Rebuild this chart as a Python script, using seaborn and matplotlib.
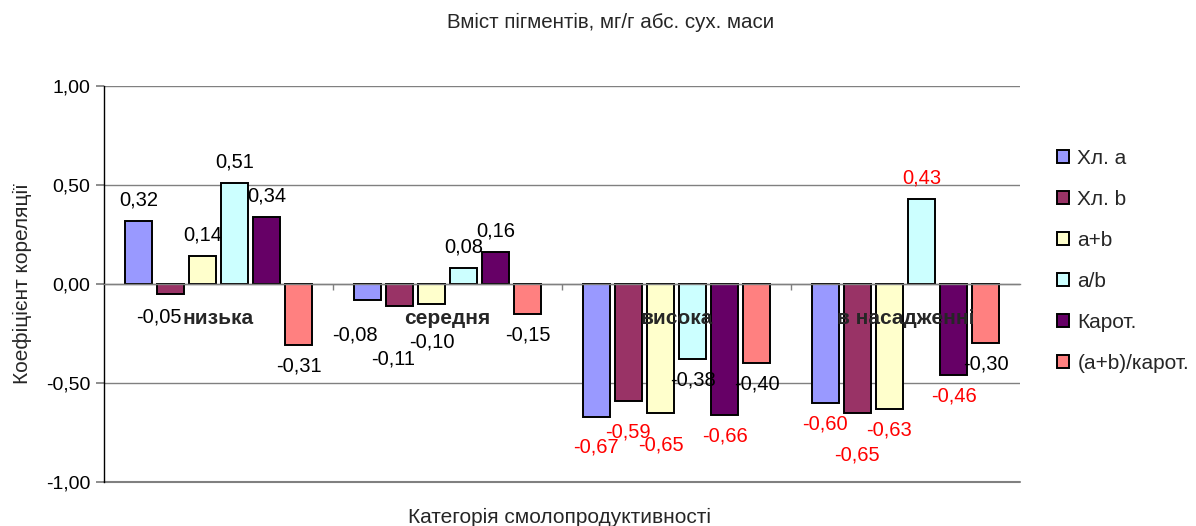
import matplotlib
matplotlib.use("Agg")
import matplotlib.pyplot as plt
from matplotlib.ticker import FuncFormatter, FixedLocator
import seaborn as sns
import pandas as pd

# дані: коефіцієнти кореляції
kategorii = ['низька', 'середня', 'висока', 'в насадженні']
serii = ['Хл. а', 'Хл. b', 'a+b', 'a/b', 'Карот.', '(a+b)/карот.']
znachennya = {
    'Хл. а':        [0.32, -0.08, -0.67, -0.60],
    'Хл. b':        [-0.05, -0.11, -0.59, -0.65],
    'a+b':          [0.14, -0.10, -0.65, -0.63],
    'a/b':          [0.51, 0.08, -0.38, 0.43],
    'Карот.':       [0.34, 0.16, -0.66, -0.46],
    '(a+b)/карот.': [-0.31, -0.15, -0.40, -0.30],
}
# достовірні значення (червоні підписи)
dostovirni = {
    'Хл. а':        [False, False, True, True],
    'Хл. b':        [False, False, True, True],
    'a+b':          [False, False, True, True],
    'a/b':          [False, False, False, True],
    'Карот.':       [False, False, True, True],
    '(a+b)/карот.': [False, False, False, False],
}
kolory = ['#9999FF', '#993366', '#FFFFCC', '#CCFFFF', '#660066', '#FF8080']

# ручні зсуви підписів (пікселі), як у вихідному рисунку
zsuvy = {
    ('Хл. b', 0): (-12, 2),
    ('Хл. а', 1): (-12, 14),
    ('Хл. b', 1): (-6, 32),
    ('a+b', 1): (0, 17),
    ('Хл. а', 2): (0, 9),
    ('Хл. b', 2): (0, 10),
    ('a+b', 2): (0, 11),
    ('Хл. b', 3): (0, 21),
}

df = pd.DataFrame([
    {'Категорія': k, 'Серія': s, 'r': znachennya[s][i]}
    for s in serii for i, k in enumerate(kategorii)
])

sns.set_theme(style="white")
plt.rcParams['font.family'] = ['Liberation Sans', 'DejaVu Sans']

fig = plt.figure(figsize=(11.96, 5.26), dpi=100)
ax = fig.add_axes([104 / 1196, 1 - 482 / 526, (1020 - 104) / 1196, (482 - 86) / 526])

sns.barplot(data=df, x='Категорія', y='r', hue='Серія', order=kategorii,
            hue_order=serii, palette=kolory, saturation=1, edgecolor='black',
            linewidth=1.4, width=0.84, gap=0.16, errorbar=None, ax=ax)

handles, labels = ax.get_legend_handles_labels()
ax.get_legend().remove()

# підписи значень
for s, cont in zip(serii, ax.containers):
    for i, bar in enumerate(cont):
        v = znachennya[s][i]
        dx, dy = zsuvy.get((s, i), (0, 0))
        sign = 1 if v >= 0 else -1
        ax.annotate(f"{v:.2f}".replace('.', ','),
                    xy=(bar.get_x() + bar.get_width() / 2, v),
                    xytext=(dx, sign * (21 + dy)), textcoords='offset pixels',
                    ha='center', va='center', fontsize=14.5,
                    color='red' if dostovirni[s][i] else 'black', zorder=5)

# назви категорій поверх стовпців
for i, k in enumerate(kategorii):
    ax.annotate(k, xy=(i, 0), xytext=(0, -35), textcoords='offset pixels',
                ha='center', va='center', fontsize=15, fontweight='bold', zorder=6)

ax.set_ylim(-1, 1)
ax.set_xlim(-0.5, 3.5)
ax.set_yticks([-1, -0.5, 0, 0.5, 1])
ax.yaxis.set_major_formatter(FuncFormatter(lambda v, p: f"{v:.2f}".replace('.', ',')))
ax.tick_params(axis='y', labelsize=14, length=6, color='#808080', labelcolor='black',
               left=True, pad=4)
ax.grid(axis='y', color='#808080', linewidth=1)
ax.set_axisbelow(True)

ax.spines['top'].set_visible(False)
ax.spines['right'].set_visible(False)
ax.spines['left'].set_color('black')
ax.spines['left'].set_linewidth(1)
ax.spines['bottom'].set_position(('data', 0))
ax.spines['bottom'].set_color('#808080')
ax.spines['bottom'].set_linewidth(1)
ax.axhline(-1, color='#808080', linewidth=1.5, zorder=0.5, clip_on=False)

ax.set_xticks(range(len(kategorii)))
ax.set_xticklabels([])
ax.xaxis.set_minor_locator(FixedLocator([0.5, 1.5, 2.5]))
ax.tick_params(axis='x', which='major', length=0)
ax.tick_params(axis='x', which='minor', length=4, color='#808080', direction='out',
               bottom=True)
ax.set_xlabel('')
ax.set_ylabel('')

fig.text(611 / 1196, 1 - 22 / 526, 'Вміст пігментів, мг/г абс. сух. маси',
         ha='center', va='center', fontsize=14.8)
fig.text(560 / 1196, 1 - 517 / 526, 'Категорія смолопродуктивності',
         ha='center', va='center', fontsize=15)
fig.text(22 / 1196, 1 - 284 / 526, 'Коефіцієнт кореляції', rotation=90,
         ha='center', va='center', fontsize=15)

fig.legend(handles, labels, loc='center left', bbox_to_anchor=(1057 / 1196, 1 - 261 / 526),
           frameon=False, fontsize=15, handlelength=0.58, handleheight=0.58,
           handletextpad=0.4, labelspacing=1.05, borderpad=0, borderaxespad=0)

fig.savefig('out.png', dpi=100)
